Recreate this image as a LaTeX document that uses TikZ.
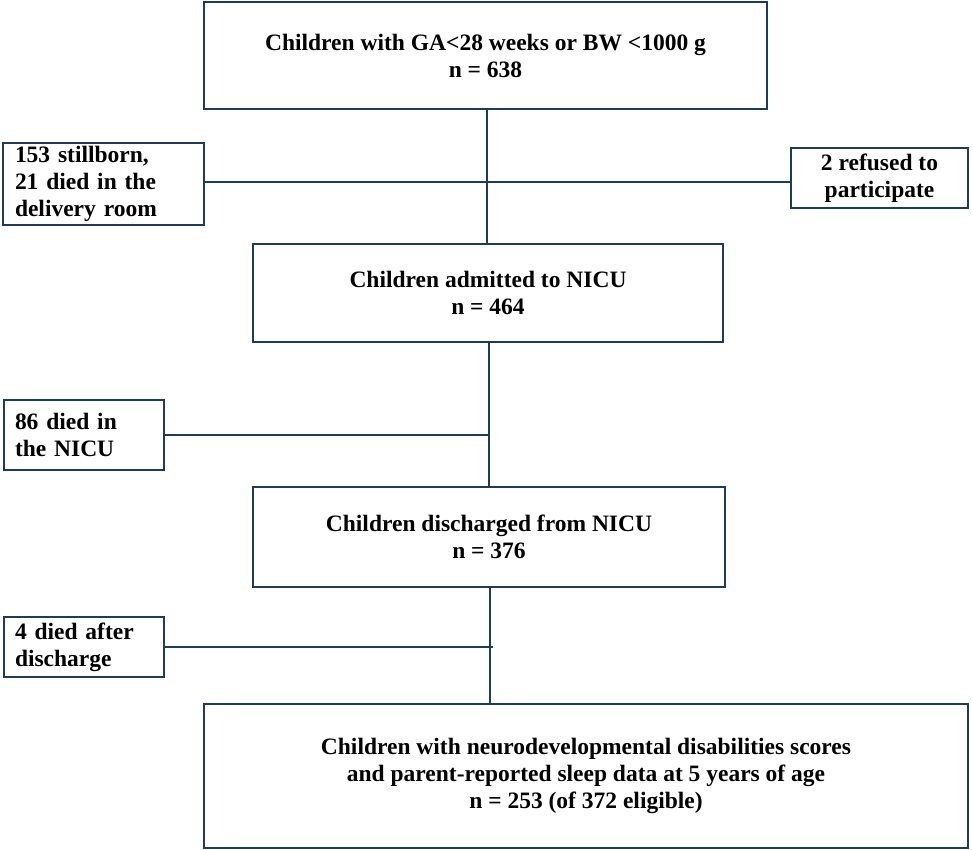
\documentclass[tikz,border=0pt]{standalone}
\usepackage{fontspec}
\setmainfont{Liberation Serif}
\begin{document}
\begin{tikzpicture}[x=1pt,y=-1pt,
  bx/.style={draw=lc,line width=1.8pt,inner sep=0pt,font=\bfseries\fontsize{23.5}{27}\selectfont,align=center},
  ln/.style={draw=lc,line width=1.8pt}]
\definecolor{lc}{HTML}{1F3B57}
\useasboundingbox (0,0) rectangle (972,850);
\node[bx,minimum width=563,minimum height=107] (top) at (485.5,55.5) {Children with GA<28 weeks or BW <1000 g\\n = 638};
\node[bx,minimum width=201,minimum height=82,align=left,text width=177] (l1) at (103.5,184) {153 stillborn,\\21 died in the\\delivery room};
\node[bx,minimum width=177,minimum height=60] (r1) at (879.5,178) {2 refused to\\participate};
\node[bx,minimum width=470,minimum height=98] (b2) at (488,293) {Children admitted to NICU\\n = 464};
\node[bx,minimum width=160,minimum height=70,align=left,text width=138] (l2) at (84,435) {86 died in\\the NICU};
\node[bx,minimum width=472,minimum height=100] (b3) at (489,537) {Children discharged from NICU\\n = 376};
\node[bx,minimum width=160,minimum height=60,align=left,text width=138] (l3) at (84,647) {4 died after\\discharge};
\node[bx,minimum width=764,minimum height=144] (b4) at (586,776) {Children with neurodevelopmental disabilities scores\\and parent-reported sleep data at 5 years of age\\n = 253 (of 372 eligible)};
\coordinate (j1a) at (487,0); \coordinate (j2a) at (489,0); \coordinate (j3a) at (490,0);
\draw[ln] (top.south -| j1a) -- (b2.north -| j1a);
\draw[ln] (l1.east |- 0,182) -- (r1.west |- 0,182);
\draw[ln] (b2.south -| j2a) -- (b3.north -| j2a);
\draw[ln] (l2.east) -- (l2.east -| j2a);
\draw[ln] (b3.south -| j3a) -- (b4.north -| j3a);
\draw[ln] (l3.east) -- ([xshift=3]l3.east -| j3a);
\end{tikzpicture}
\end{document}
